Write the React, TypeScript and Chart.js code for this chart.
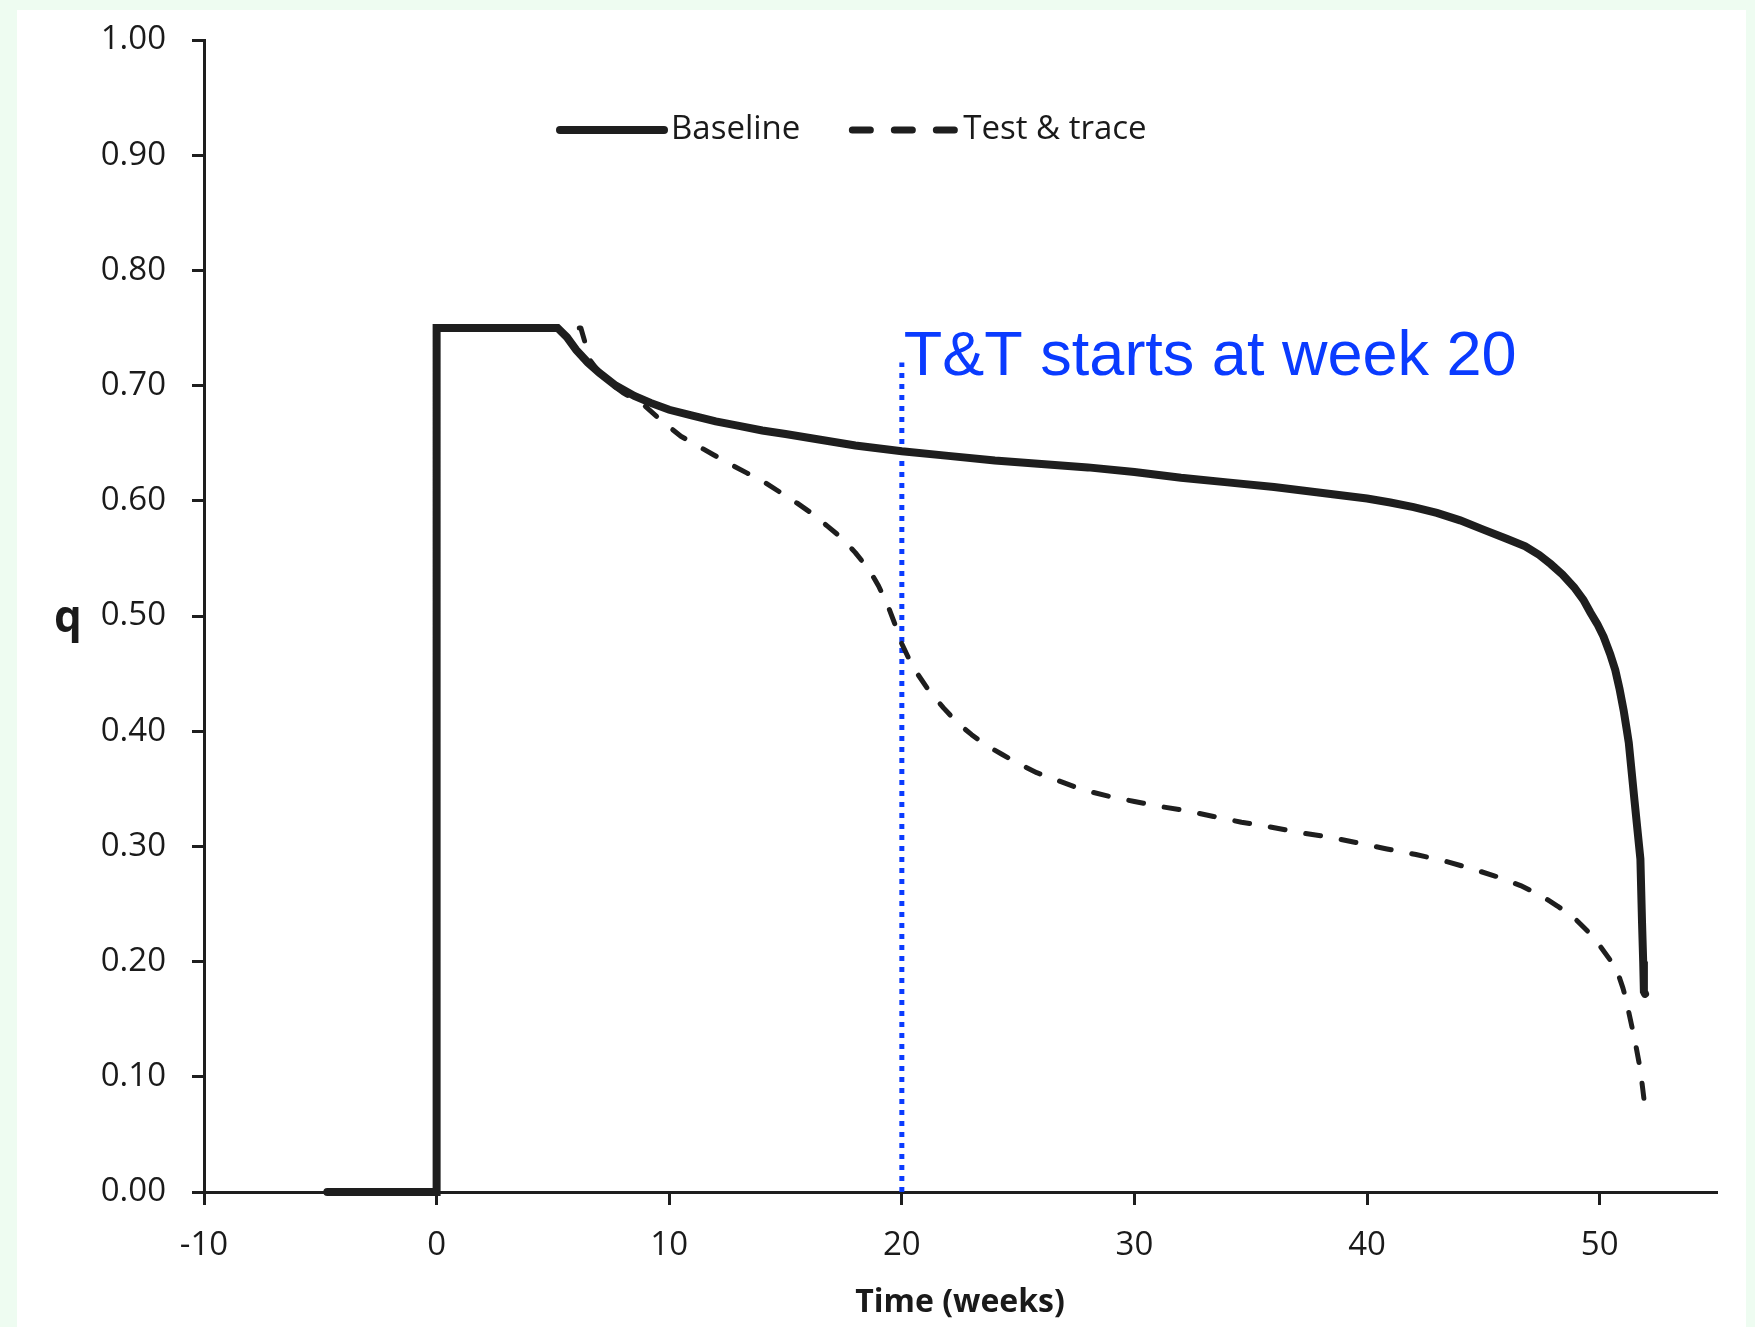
import React, { useEffect, useRef } from "react";
import { Chart, registerables } from "chart.js";

Chart.register(...registerables);

// ---- data ----
const seriesLabels = ["Baseline", "Test & trace"];

const baselineWeeks = [
  -4.7, 0, 0, 5.2, 5.6, 6.0, 6.5, 7.0, 7.7, 8.5, 9.2, 10.0, 11.0, 12.0, 13.0,
  14.0, 15.0, 16.5, 18.0, 20.0, 22.0, 24.0, 26.0, 28.0, 30.0, 32.0, 34.0, 36.0,
  38.0, 40.0, 41.0, 42.0, 43.0, 44.0, 45.0, 46.0, 46.8, 47.4, 47.9, 48.4, 48.9,
  49.3, 49.6, 49.9, 50.17, 50.45, 50.67, 50.85, 51.03, 51.15, 51.25, 51.5,
  51.75, 51.82, 51.87, 51.9, 51.95,
];
const baselineQ = [
  0, 0, 0.75, 0.75, 0.742, 0.731, 0.72, 0.711, 0.7, 0.691, 0.685, 0.679, 0.674,
  0.669, 0.665, 0.661, 0.658, 0.653, 0.648, 0.643, 0.639, 0.635, 0.632, 0.629,
  0.625, 0.62, 0.616, 0.612, 0.607, 0.602, 0.5985, 0.5945, 0.5895, 0.583,
  0.575, 0.567, 0.5605, 0.553, 0.545, 0.536, 0.525, 0.514, 0.503, 0.493, 0.482,
  0.467, 0.453, 0.437, 0.418, 0.403, 0.39, 0.339, 0.289, 0.234, 0.2, 0.174,
  0.172,
];

const traceWeeks = [
  -4.7, 0, 0, 6.2, 6.6, 7.2, 8.0, 8.97, 9.7, 10.5, 11.2, 11.9, 12.6, 13.35,
  14.1, 14.8, 15.5, 16.2, 16.8, 17.4, 18.0, 18.6, 19.0, 19.4, 19.7, 19.95, 20.3,
  20.7, 21.2, 21.8, 22.4, 23.0, 23.6, 24.3, 25.0, 25.8, 26.6, 27.4, 28.2, 29.0,
  30.0, 31.0, 32.2, 33.4, 34.6, 35.8, 37.1, 38.4, 39.6, 40.8, 42.1, 43.4, 44.6,
  45.7, 46.6, 47.5, 48.2, 48.9, 49.5, 50.0, 50.5, 50.8, 51.0, 51.15, 51.25, 51.5,
  51.75, 51.92,
];
const traceQ = [
  0, 0, 0.75, 0.75, 0.722, 0.706, 0.694, 0.682, 0.669, 0.656, 0.648, 0.64, 0.632,
  0.624, 0.616, 0.607, 0.598, 0.588, 0.578, 0.568, 0.555, 0.54, 0.526, 0.509,
  0.493, 0.478, 0.463, 0.449, 0.434, 0.42, 0.407, 0.397, 0.388, 0.38, 0.372,
  0.364, 0.358, 0.352, 0.347, 0.343, 0.339, 0.335, 0.331, 0.326, 0.321, 0.317,
  0.312, 0.308, 0.303, 0.298, 0.293, 0.287, 0.28, 0.273, 0.266, 0.257, 0.248,
  0.238, 0.226, 0.214, 0.2, 0.189, 0.177, 0.166, 0.156, 0.133, 0.106, 0.078,
];

const markerWeeks = [20, 20];
const markerQ = [0, 0.72];
const annotationText = "T&T starts at week 20";

const xTicks = [-10, 0, 10, 20, 30, 40, 50];
const yTicks = [0, 0.1, 0.2, 0.3, 0.4, 0.5, 0.6, 0.7, 0.8, 0.9, 1.0];
const xTitle = "Time (weeks)";
const yTitle = "q";

// ---- styles ----
const INK = "#1e1e1e";
const TEXT = "#1a1a1a";
const BLUE = "#0a3bff";
const FONT = '"Open Sans", "Noto Sans", sans-serif';

const toPoints = (xs: number[], ys: number[]) =>
  xs.map((x, i) => ({ x, y: ys[i] }));

const overlayPlugin = {
  id: "overlay",
  afterDatasetsDraw(chart: any) {
    const { ctx, chartArea, scales } = chart;
    const xs = scales.x;
    const ys = scales.y;
    ctx.save();

    // annotation text next to the marker line
    ctx.font = '63px "Liberation Sans", Arial, sans-serif';
    ctx.fillStyle = BLUE;
    ctx.textAlign = "left";
    ctx.textBaseline = "alphabetic";
    ctx.fillText(
      annotationText,
      xs.getPixelForValue(markerWeeks[1]) + 2,
      ys.getPixelForValue(markerQ[1]) + 12
    );

    // upright y title
    ctx.font = `bold 44px ${FONT}`;
    ctx.fillStyle = TEXT;
    ctx.textAlign = "center";
    ctx.fillText(yTitle, chartArea.left - 136, ys.getPixelForValue(0.5) + 16);

    // legend inside plot area
    const items = chart.data.datasets.filter((d: any) => d.inLegend);
    let x = chartArea.left + 356;
    const y = chartArea.top + 90;
    const sample = 104;
    ctx.font = `33px ${FONT}`;
    ctx.textBaseline = "middle";
    ctx.textAlign = "left";
    items.forEach((d: any) => {
      ctx.save();
      ctx.strokeStyle = d.borderColor;
      ctx.lineWidth = d.legendWidth;
      ctx.lineCap = "round";
      ctx.setLineDash(d.legendDash);
      ctx.beginPath();
      ctx.moveTo(x, y);
      ctx.lineTo(x + sample, y);
      ctx.stroke();
      ctx.restore();
      ctx.fillStyle = TEXT;
      ctx.fillText(d.label, x + sample + 7, y);
      x += sample + 7 + ctx.measureText(d.label).width + 52;
    });

    ctx.restore();
  },
};

export default function App() {
  const ref = useRef<HTMLCanvasElement>(null);

  useEffect(() => {
    if (!ref.current) return;
    const chart = new Chart(ref.current, {
      type: "line",
      data: {
        datasets: [
          {
            label: seriesLabels[0],
            data: toPoints(baselineWeeks, baselineQ),
            borderColor: INK,
            borderWidth: 8,
            borderCapStyle: "round",
            borderJoinStyle: "miter",
            pointRadius: 0,
            tension: 0,
            clip: false,
            inLegend: true,
            legendWidth: 8,
            legendDash: [],
          } as any,
          {
            label: seriesLabels[1],
            data: toPoints(traceWeeks, traceQ),
            borderColor: INK,
            borderWidth: 5,
            borderDash: [15, 21],
            borderCapStyle: "round",
            borderJoinStyle: "round",
            pointRadius: 0,
            tension: 0,
            clip: false,
            inLegend: true,
            legendWidth: 7,
            legendDash: [18, 24],
          } as any,
          {
            label: "marker",
            data: toPoints(markerWeeks, markerQ),
            borderColor: BLUE,
            borderWidth: 5,
            borderDash: [5, 6],
            borderCapStyle: "butt",
            pointRadius: 0,
            tension: 0,
            inLegend: false,
          } as any,
        ],
      },
      options: {
        animation: false,
        responsive: false,
        maintainAspectRatio: false,
        layout: { padding: { left: 0, right: 30, top: 30, bottom: 0 } },
        plugins: {
          legend: { display: false },
          tooltip: { enabled: false },
        },
        scales: {
          x: {
            type: "linear",
            min: -10,
            max: 55,
            afterBuildTicks: (s: any) => {
              s.ticks = xTicks.map((v) => ({ value: v }));
            },
            afterFit: (s: any) => {
              s.height = 135;
              s.paddingLeft = 0;
              s.paddingRight = 0;
            },
            ticks: {
              font: { family: FONT, size: 33 },
              color: TEXT,
              padding: 21,
              maxRotation: 0,
              autoSkip: false,
              callback: (v: any) => String(v),
            },
            grid: {
              display: true,
              drawOnChartArea: false,
              drawTicks: true,
              tickLength: 13,
              lineWidth: 3,
              color: INK,
            },
            border: { display: true, width: 3, color: INK },
            title: {
              display: true,
              text: xTitle,
              font: { family: FONT, size: 32, weight: "bold" },
              color: TEXT,
              padding: { top: 0, bottom: 5 },
            },
          },
          y: {
            type: "linear",
            min: 0,
            max: 1,
            afterBuildTicks: (s: any) => {
              s.ticks = yTicks.map((v) => ({ value: v }));
            },
            afterFit: (s: any) => {
              s.width = 187;
              s.paddingTop = 0;
              s.paddingBottom = 0;
            },
            ticks: {
              font: { family: FONT, size: 33 },
              color: TEXT,
              padding: 26,
              autoSkip: false,
              callback: (v: any) => Number(v).toFixed(2),
            },
            grid: {
              display: true,
              drawOnChartArea: false,
              drawTicks: true,
              tickLength: 12,
              lineWidth: 3,
              color: INK,
            },
            border: { display: true, width: 3, color: INK },
          },
        },
      } as any,
      plugins: [overlayPlugin],
    });
    return () => chart.destroy();
  }, []);

  return (
    <div
      style={{
        position: "fixed",
        left: 0,
        top: 0,
        width: 1755,
        height: 1327,
        background: "#eefcf1",
        overflow: "hidden",
      }}
    >
      <div
        style={{
          position: "absolute",
          left: 17,
          top: 10,
          width: 1729,
          height: 1317,
          background: "#ffffff",
        }}
      >
        <canvas
          ref={ref}
          width={1729}
          height={1317}
          style={{ display: "block", width: 1729, height: 1317 }}
        />
      </div>
    </div>
  );
}
